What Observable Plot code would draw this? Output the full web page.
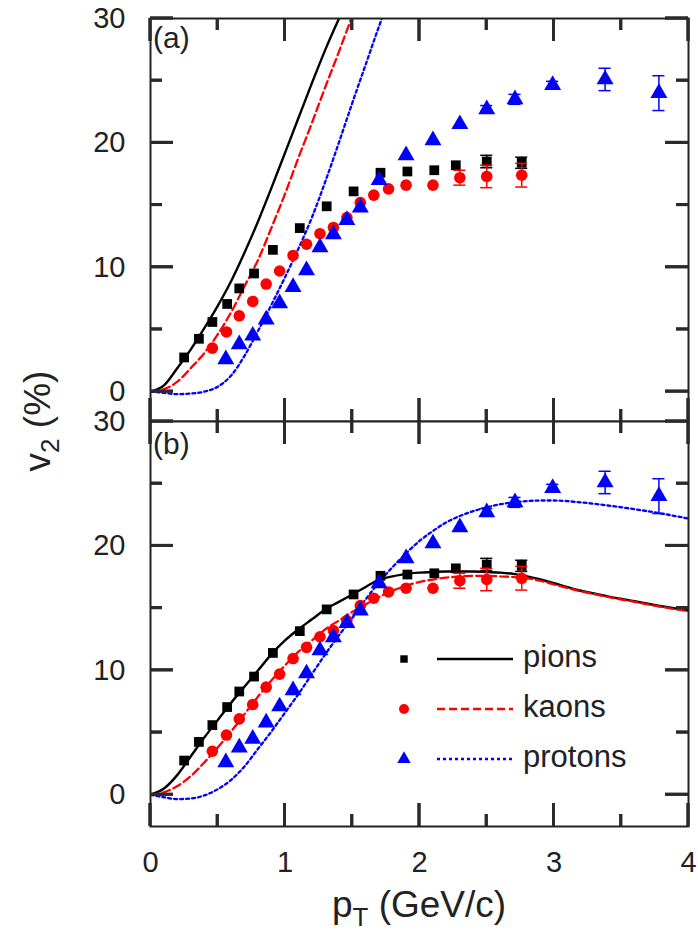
<!DOCTYPE html>
<html><head><meta charset="utf-8">
<script src="https://cdn.jsdelivr.net/npm/d3@7"></script>
<script src="https://cdn.jsdelivr.net/npm/@observablehq/plot@0.6"></script>
<style>
body{margin:0;background:#fff;}
#fig{position:relative;width:698px;height:951px;font-family:"Liberation Sans",Arial,sans-serif;}
#fig svg{position:absolute;left:0;overflow:visible;}
</style></head><body><div id="fig"></div>
<script>
// ---- measured data (same in both panels) ----
const pionPt  = [0.25,0.36,0.46,0.57,0.66,0.77,0.91,1.11,1.31,1.51,1.71,1.91,2.11,2.27,2.50,2.76];
const pionV2  = [2.75,4.25,5.6,7.05,8.3,9.5,11.4,13.15,14.9,16.1,17.6,17.7,17.8,18.2,18.5,18.4];
const pionErr = [0,0,0,0,0,0,0,0,0,0,0,0,0,0,0.5,0.45];

const kaonPt  = [0.46,0.565,0.66,0.76,0.86,0.96,1.06,1.16,1.26,1.36,1.46,1.56,1.66,1.77,1.90,2.10,2.30,2.50,2.76];
const kaonV2  = [3.5,4.8,6.1,7.25,8.65,9.7,10.95,11.85,12.7,13.2,14.0,15.2,15.8,16.3,16.6,16.6,17.2,17.3,17.4];
const kaonErr = [0,0,0,0,0,0,0,0,0,0,0,0,0,0,0,0,0.6,0.9,0.95];

const protonPt  = [0.56,0.66,0.76,0.86,0.96,1.06,1.16,1.26,1.36,1.46,1.56,1.70,1.90,2.10,2.30,2.50,2.71,2.99,3.38,3.78];
const protonV2  = [2.6,3.8,4.5,5.8,7.1,8.4,9.75,11.6,12.65,13.8,14.8,17.0,19.0,20.2,21.5,22.7,23.5,24.65,25.1,24.0];
const protonErr = [0,0,0,0,0,0,0,0,0,0,0,0,0,0,0,0.3,0.4,0.3,0.9,1.4];

// ---- panel (a) model curves ----
const aPionPt = [0,0.1,0.2,0.3,0.4,0.5,0.6,0.7,0.8,0.9,1.0,1.1,1.2,1.3,1.41];
const aPionV2 = [0,0.5,1.9,3.4,5.1,6.9,8.9,11.2,13.7,16.4,19.2,22.0,24.8,27.5,30.2];
const aKaonPt = [0,0.1,0.2,0.3,0.4,0.5,0.6,0.7,0.8,0.9,1.0,1.1,1.2,1.3,1.4,1.5];
const aKaonV2 = [0,0.2,0.8,1.9,3.1,4.6,6.4,8.5,10.6,13.2,15.9,18.8,21.6,24.5,27.3,30.2];
const aProtonPt = [0,0.1,0.2,0.3,0.4,0.5,0.6,0.7,0.8,0.9,1.0,1.1,1.2,1.3,1.4,1.5,1.6,1.7,1.73];
const aProtonV2 = [0,-0.1,-0.2,-0.15,0,0.4,1.3,2.9,4.9,7.0,9.2,11.5,14.0,16.9,20.0,23.2,26.3,29.4,30.3];

// ---- panel (b) model curves ----
const bPt = [0,0.1,0.2,0.3,0.4,0.5,0.6,0.7,0.8,0.9,1.0,1.1,1.2,1.3,1.4,1.5,1.6,1.7,1.8,1.9,2.0,2.1,2.2,2.3,2.4,2.5,2.6,2.7,2.8,2.9,3.0,3.2,3.4,3.6,3.8,4.0];
const bPionV2 = [0,0.5,1.6,3.1,4.6,6.0,7.4,8.7,10.0,11.3,12.4,13.3,14.1,14.9,15.5,16.1,16.7,17.3,17.55,17.75,17.85,17.9,17.95,17.95,17.95,17.9,17.85,17.75,17.55,17.3,17.0,16.4,15.95,15.55,15.15,14.8];
const bKaonV2 = [0,0.2,0.7,1.5,2.6,3.8,5.1,6.5,7.9,9.2,10.4,11.5,12.4,13.3,14.0,14.7,15.3,15.9,16.4,16.8,17.1,17.3,17.45,17.55,17.6,17.6,17.55,17.5,17.4,17.2,16.9,16.35,15.9,15.5,15.1,14.75];
const bProtonV2 = [0,-0.2,-0.35,-0.3,-0.05,0.45,1.2,2.3,3.7,5.1,6.6,8.1,9.7,11.3,12.8,14.2,15.7,17.1,18.3,19.4,20.4,21.2,21.9,22.4,22.8,23.1,23.35,23.5,23.6,23.65,23.65,23.5,23.25,22.95,22.6,22.2];

// ---- axes ----
const majorX = [0,1,2,3,4];
const minorX = [0.5,1.5,2.5,3.5];
const majorY = [0,10,20,30];
const minorY = [5,15,25];

const species = ["pions","kaons","protons"];
const colors = ["#000000","#ff0000","#0000ff"];
const symbols = ["square","circle","triangle"];
const dashes = [null,"8,4","3,3"];
const radii = [5.5,5.8,6.3];

const rows = (xs, ys, es) => xs.map((x,i)=>({x, y: ys[i], e: es ? es[i] : 0}));
const points = [rows(pionPt,pionV2,pionErr), rows(kaonPt,kaonV2,kaonErr), rows(protonPt,protonV2,protonErr)];
const curvesA = [rows(aPionPt,aPionV2), rows(aKaonPt,aKaonV2), rows(aProtonPt,aProtonV2)];
const curvesB = [rows(bPt,bPionV2), rows(bPt,bKaonV2), rows(bPt,bProtonV2)];

const ink = "#222";
const font = 29;
const FF = '"Liberation Sans", Arial, sans-serif';
const capHalf = 0.045;
const MAJ = 23, MIN = 12, TW = 3;
const W = 698, ML = 150, MR = 10;
const xDomain = [0, 4];

function panel({height, marginTop, marginBottom, yDomain, curves, xLabels}) {
  const kX = (xDomain[1]-xDomain[0]) / (W - ML - MR);
  const kY = (yDomain[1]-yDomain[0]) / (height - marginTop - marginBottom);
  const [xa, xb] = xDomain, [ya, yb] = yDomain;
  const tickBars = [];
  for (const [ticks, len] of [[majorX, MAJ], [minorX, MIN]]) for (const t of ticks) {
    tickBars.push({x1: t - TW/2*kX, x2: t + TW/2*kX, y1: ya, y2: ya + len*kY});
    tickBars.push({x1: t - TW/2*kX, x2: t + TW/2*kX, y1: yb - len*kY, y2: yb});
  }
  for (const [ticks, len] of [[majorY, MAJ], [minorY, MIN]]) for (const t of ticks) {
    tickBars.push({x1: xa, x2: xa + len*kX, y1: t - TW/2*kY, y2: t + TW/2*kY});
    tickBars.push({x1: xb - len*kX, x2: xb, y1: t - TW/2*kY, y2: t + TW/2*kY});
  }
  const marks = [];
  marks.push(Plot.rect(tickBars, {x1: d=>d.x1, x2: d=>d.x2, y1: d=>d.y1, y2: d=>d.y2, fill: "#2a2a2a", inset: 0}));
  curves.forEach((c,i)=>{
    marks.push(Plot.line(c, {x:"x", y:"y", stroke: colors[i], strokeWidth: i===0?2.4:2.3, strokeDasharray: dashes[i], curve: "monotone-x", clip: true}));
  });
  points.forEach((p,i)=>{
    const w = p.filter(d=>d.e>0);
    marks.push(Plot.ruleX(w, {x:"x", y1: d=>d.y-d.e, y2: d=>d.y+d.e, stroke: colors[i], strokeWidth:1.5}));
    marks.push(Plot.ruleY(w, {y: d=>d.y+d.e, x1: d=>d.x-capHalf, x2: d=>d.x+capHalf, stroke: colors[i], strokeWidth:1.5}));
    marks.push(Plot.ruleY(w, {y: d=>d.y-d.e, x1: d=>d.x-capHalf, x2: d=>d.x+capHalf, stroke: colors[i], strokeWidth:1.5}));
    marks.push(Plot.dot(p, {x:"x", y:"y", symbol: symbols[i], r: radii[i], fill: colors[i], stroke:"none"}));
  });
  marks.push(Plot.axisY({ticks: majorY, anchor:"left", tickSize: 0, tickPadding: 25, fontSize: font, fill: ink, label: null, tickFormat: d3.format("d")}));
  if (xLabels) marks.push(Plot.axisX({ticks: majorX, anchor:"bottom", tickSize: 0, tickPadding: 25, fontSize: font, fill: ink, label: null, tickFormat: d3.format("d")}));
  marks.push(Plot.frame({stroke: ink, strokeWidth: 2}));
  return Plot.plot({
    width: W, height, marginTop, marginBottom, marginLeft: ML, marginRight: MR,
    style: {fontFamily: FF, background: "#fff", color: ink},
    x: {domain: xDomain, axis: null},
    y: {domain: yDomain, axis: null},
    marks
  });
}

const fig = document.getElementById("fig");
const panels = [
  [panel({height: 421, marginTop: 18, marginBottom: 0, yDomain: [-2.4, 30], curves: curvesA, xLabels: false}), 0, 18, 421],
  [panel({height: 530, marginTop: 0, marginBottom: 125, yDomain: [-2.55, 30], curves: curvesB, xLabels: true}), 421, 0, 405]
];
for (const [svg, top] of panels) { svg.style.top = top + "px"; fig.appendChild(svg); }
const svgA = panels[0][0], svgB = panels[1][0];

// inward ticks also as explicit lines placed with each plot's own scales
for (const [svg, , T, B] of panels) {
  const sx = svg.scale("x"), sy = svg.scale("y");
  const g = d3.select(svg).append("g");
  const seg = (x1,y1,x2,y2) => g.append("line").attr("x1",x1).attr("y1",y1).attr("x2",x2).attr("y2",y2).attr("stroke","#2a2a2a").attr("stroke-width",TW);
  for (const [ticks, len] of [[majorX, MAJ], [minorX, MIN]]) for (const t of ticks) {
    const px = sx.apply(t);
    seg(px, B, px, B - len); seg(px, T, px, T + len);
  }
  for (const [ticks, len] of [[majorY, MAJ], [minorY, MIN]]) for (const t of ticks) {
    const py = sy.apply(t);
    seg(ML, py, ML + len, py); seg(W - MR, py, W - MR - len, py);
  }
}

const txt = (svg) => d3.select(svg).append("g").attr("font-family", FF).attr("fill", ink).attr("text-anchor","start");

// panel labels
txt(svgA).append("text").attr("x",153).attr("y",48).attr("font-size",font+1).text("(a)");
txt(svgB).append("text").attr("x",153).attr("y",33).attr("font-size",font+1).text("(b)");

// axis labels
const gB = txt(svgB);
const yl = gB.append("text").attr("transform","translate(50,0) rotate(-90)").attr("text-anchor","middle").attr("font-size",37);
yl.append("tspan").text("v");
yl.append("tspan").attr("font-size",26).attr("dy",9).text("2");
yl.append("tspan").attr("dy",-9).text(" (%)");
const xl = gB.append("text").attr("x",419).attr("y",496).attr("text-anchor","middle").attr("font-size",37);
xl.append("tspan").text("p");
xl.append("tspan").attr("font-size",26).attr("dy",9).text("T");
xl.append("tspan").attr("dy",-9).text(" (GeV/c)");

// legend (panel b)
const leg = txt(svgB);
const legY = [238, 288, 338];
species.forEach((s,i)=>{
  const g = leg.append("g").attr("transform",`translate(0,${legY[i]})`);
  g.append("path").attr("transform","translate(404,0)").attr("d", d3.symbol(i===0?d3.symbolSquare:i===1?d3.symbolCircle:d3.symbolTriangle, Math.PI*(i===0?4.2:5)**2)()).attr("fill",colors[i]);
  g.append("line").attr("x1",437).attr("x2",513).attr("y1",0).attr("y2",0).attr("stroke",colors[i]).attr("stroke-width",2.3).attr("stroke-dasharray",dashes[i]);
  g.append("text").attr("x",523).attr("y",8).attr("font-size",font+2).text(s);
});
</script></body></html>
